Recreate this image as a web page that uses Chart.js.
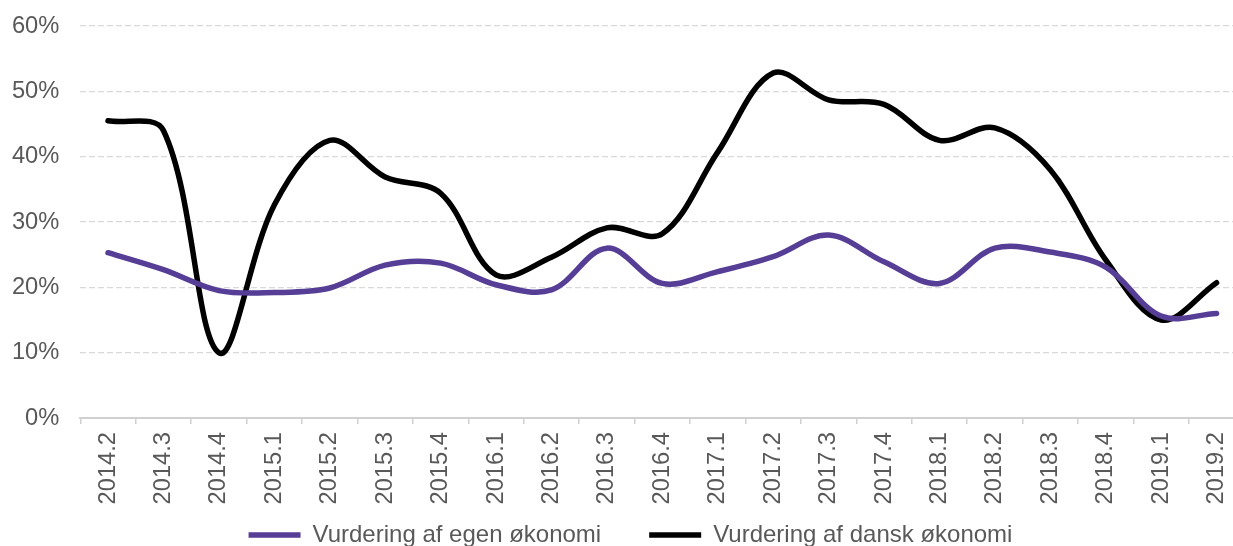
<!DOCTYPE html>
<html>
<head>
<meta charset="utf-8">
<script src="https://cdn.jsdelivr.net/npm/chart.js@4.4.1/dist/chart.umd.min.js"></script>
<style>
  html, body { margin: 0; padding: 0; background: #fff; overflow: hidden; }
  #wrap { width: 1253px; height: 546px; }
</style>
</head>
<body>
<div id="wrap"><canvas id="chart" width="1253" height="546"></canvas></div>
<script>
// kvartaler
var quarters = ["2014.2", "2014.3", "2014.4", "2015.1", "2015.2", "2015.3", "2015.4",
    "2016.1", "2016.2", "2016.3", "2016.4", "2017.1", "2017.2", "2017.3", "2017.4",
    "2018.1", "2018.2", "2018.3", "2018.4", "2019.1", "2019.2"];

// andel i procent
var egenOkonomi = [25.3, 22.7, 19.5, 19.2, 19.9, 23.4, 23.7, 20.4, 19.6, 26.0, 20.6,
    22.4, 24.7, 28.0, 23.9, 20.6, 26.0, 25.4, 23.1, 15.6, 16.0];
var danskOkonomi = [45.5, 44.0, 10.0, 32.6, 42.5, 36.9, 34.4, 21.9, 24.6, 29.1, 28.2,
    40.7, 52.8, 48.7, 48.0, 42.5, 44.4, 38.0, 24.2, 15.0, 20.7];

var yTicks = { min: 0, max: 60, step: 10 };

var textColor = "#595959";
var fontFamily = "'Liberation Sans', Arial, sans-serif";

// flyt legenden ned under x-aksens tekster
var legendPlace = {
    id: 'legendPlace',
    afterLayout: function(chart) {
        var lg = chart.legend;
        lg.left = 17;
        lg.right = 1244;
        lg.width = lg.right - lg.left;
        lg.top = 475;
        lg.bottom = 560;
        lg.height = lg.bottom - lg.top;
    }
};

var ctx = document.getElementById("chart");
new Chart(ctx, {
    type: 'line',
    data: {
        labels: quarters,
        datasets: [{
            label: "Vurdering af egen økonomi",
            data: egenOkonomi,
            borderColor: "#563d96",
            backgroundColor: "#563d96",
            borderWidth: 5.5,
            borderCapStyle: 'round',
            pointRadius: 0,
            tension: 0.35,
            pointStyle: 'line'
        }, {
            label: "Vurdering af dansk økonomi",
            data: danskOkonomi,
            borderColor: "#000000",
            backgroundColor: "#000000",
            borderWidth: 5.5,
            borderCapStyle: 'round',
            pointRadius: 0,
            tension: 0.35,
            pointStyle: 'line'
        }]
    },
    plugins: [legendPlace],
    options: {
        responsive: false,
        animation: false,
        devicePixelRatio: 1,
        layout: {
            padding: { left: 0, right: 0, top: 26, bottom: 0 }
        },
        plugins: {
            tooltip: { enabled: false },
            legend: {
                position: 'bottom',
                maxHeight: 10,
                labels: {
                    usePointStyle: true,
                    pointStyleWidth: 52,
                    padding: 48,
                    color: textColor,
                    font: { family: fontFamily, size: 24 }
                }
            }
        },
        scales: {
            x: {
                offset: true,
                grid: {
                    offset: true,
                    drawOnChartArea: false,
                    drawTicks: true,
                    tickLength: 6,
                    color: "#d0d0d0",
                    lineWidth: 1.5
                },
                border: { color: "#d0d0d0", width: 2 },
                ticks: {
                    minRotation: 90,
                    maxRotation: 90,
                    padding: 8,
                    color: textColor,
                    font: { family: fontFamily, size: 23.7 }
                },
                afterFit: function(scale) { scale.height = 118; }
            },
            y: {
                min: yTicks.min,
                max: yTicks.max,
                grid: {
                    color: "#d9d9d9",
                    lineWidth: 1.3,
                    drawTicks: true,
                    tickLength: 21,
                    tickColor: "rgba(0,0,0,0)"
                },
                border: { display: false, dash: [6, 3] },
                ticks: {
                    stepSize: yTicks.step,
                    padding: 0,
                    color: textColor,
                    font: { family: fontFamily, size: 23.7 },
                    callback: function(v) { return v + '%'; }
                },
                afterFit: function(scale) { scale.width = 80.3; }
            }
        }
    }
});
</script>
</body>
</html>
